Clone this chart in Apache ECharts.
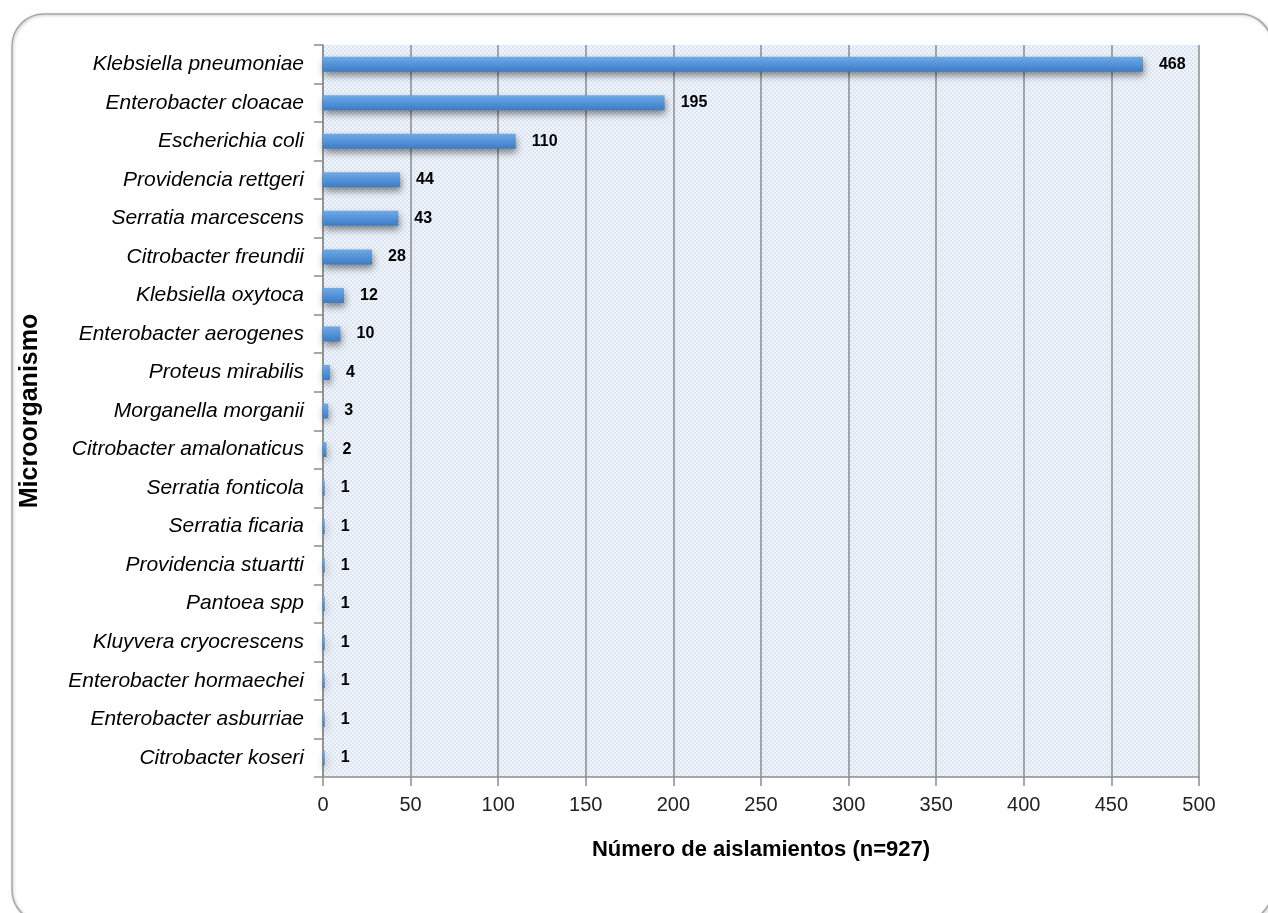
<!DOCTYPE html>
<html>
<head>
<meta charset="utf-8">
<script src="https://cdn.jsdelivr.net/npm/echarts@6/dist/echarts.min.js"></script>
<style>
  html, body { margin: 0; padding: 0; background: #fff; }
  #chart { width: 1268px; height: 913px; }
</style>
</head>
<body>
<div id="chart"></div>
<script>
const organisms = [
  'Klebsiella pneumoniae', 'Enterobacter cloacae', 'Escherichia coli',
  'Providencia rettgeri', 'Serratia marcescens', 'Citrobacter freundii',
  'Klebsiella oxytoca', 'Enterobacter aerogenes', 'Proteus mirabilis',
  'Morganella morganii', 'Citrobacter amalonaticus', 'Serratia fonticola',
  'Serratia ficaria', 'Providencia stuartti', 'Pantoea spp',
  'Kluyvera cryocrescens', 'Enterobacter hormaechei', 'Enterobacter asburriae',
  'Citrobacter koseri'
]
const isolates = [468, 195, 110, 44, 43, 28, 12, 10, 4, 3, 2, 1, 1, 1, 1, 1, 1, 1, 1]
const xTicks = { min: 0, max: 500, interval: 50 }

// dotted light blue fill like the original plot area
function makePattern() {
  const c = document.createElement('canvas')
  c.width = 4
  c.height = 4
  const ctx = c.getContext('2d')
  ctx.fillStyle = '#d9e5f3'
  ctx.fillRect(0, 0, 4, 4)
  ctx.fillStyle = '#f2f6fb'
  ctx.fillRect(0, 0, 2, 2)
  ctx.fillRect(2, 2, 2, 2)
  return c
}

const font = '"Liberation Sans", Arial, sans-serif'

const chart = echarts.init(document.getElementById('chart'))
chart.setOption({
  backgroundColor: '#fff',
  animation: false,
  graphic: [{
    type: 'rect',
    shape: { x: 12, y: 14, width: 1260, height: 908, r: 32 },
    style: {
      fill: 'none',
      stroke: '#a6a6a6',
      lineWidth: 1.5,
      shadowBlur: 3,
      shadowColor: 'rgba(0,0,0,0.25)',
      shadowOffsetX: 1,
      shadowOffsetY: 1
    },
    z: -1
  }],
  grid: {
    left: 323,
    right: 69,
    top: 45,
    bottom: 136,
    show: true,
    borderWidth: 0,
    backgroundColor: { image: makePattern(), repeat: 'repeat' }
  },
  xAxis: {
    type: 'value',
    min: xTicks.min,
    max: xTicks.max,
    interval: xTicks.interval,
    name: 'Número de aislamientos (n=927)',
    nameLocation: 'middle',
    nameGap: 62,
    nameTextStyle: { fontFamily: font, fontWeight: 'bold', fontSize: 22, color: '#000' },
    axisLine: { show: true, lineStyle: { color: '#8c8c8c', width: 1.5 } },
    axisTick: { show: true, length: 9, lineStyle: { color: '#8c8c8c', width: 1.5 } },
    axisLabel: { fontFamily: font, fontSize: 20, color: '#222', margin: 18 },
    splitLine: { show: true, lineStyle: { color: '#8c8c8c', width: 1.5 } }
  },
  yAxis: {
    type: 'category',
    inverse: true,
    data: organisms,
    name: 'Microorganismo',
    nameLocation: 'middle',
    nameGap: 280,
    nameTextStyle: { fontFamily: font, fontWeight: 'bold', fontSize: 25, color: '#000' },
    axisLine: { show: true, lineStyle: { color: '#8c8c8c', width: 1.5 } },
    axisTick: { show: true, length: 9, lineStyle: { color: '#8c8c8c', width: 1.5 } },
    axisLabel: {
      fontFamily: font,
      fontStyle: 'italic',
      fontSize: 21,
      color: '#000',
      margin: 19
    }
  },
  series: [{
    type: 'bar',
    data: isolates,
    barWidth: 15,
    itemStyle: {
      color: new echarts.graphic.LinearGradient(0, 0, 0, 1, [
        { offset: 0, color: '#72a9e2' },
        { offset: 0.5, color: '#5393d9' },
        { offset: 1, color: '#3d7bc3' }
      ]),
      shadowBlur: 7,
      shadowOffsetY: 4,
      shadowOffsetX: 1,
      shadowColor: 'rgba(0,0,0,0.45)'
    },
    label: {
      show: true,
      position: 'right',
      distance: 16,
      fontFamily: font,
      fontWeight: 'bold',
      fontSize: 16,
      color: '#000'
    }
  }]
})
</script>
</body>
</html>
